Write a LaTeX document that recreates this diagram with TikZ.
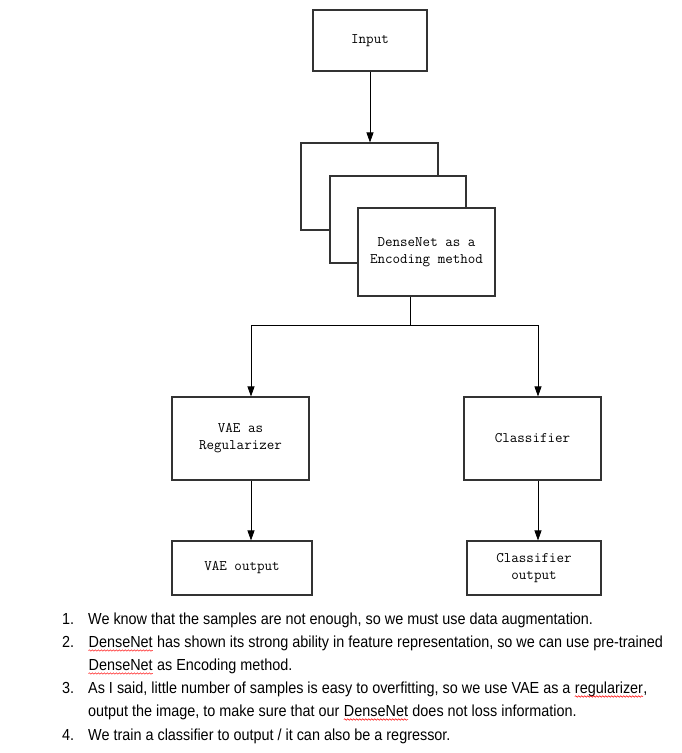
\documentclass[tikz,border=0pt]{standalone}
\usepackage{fontspec}
\setmainfont[FakeStretch=0.9]{Liberation Sans}
\usetikzlibrary{arrows.meta,decorations.pathmorphing}
\newcommand\wavy[1]{\tikz[baseline=(w.base)]{\node[inner sep=0pt,anchor=base](w){#1};\draw[red,line width=0.5pt,decorate,decoration={snake,amplitude=0.7pt,segment length=3pt}]([yshift=-3.5pt]w.base west)--([yshift=-3.5pt]w.base east);}}
\begin{document}
\begin{tikzpicture}[x=1pt,y=-1pt,
  blk/.style={draw=black!80,line width=1.1pt,fill=white,inner sep=0pt,font=\ttfamily\fontsize{14.6}{17}\selectfont,align=center},
  conn/.style={draw=black,line width=0.8pt},
  arr/.style={conn,-{Triangle[length=10pt,width=7pt]}},
  itm/.style={anchor=base west,inner sep=0pt,font=\fontsize{16}{18}\selectfont}]
\useasboundingbox (0,0) rectangle (681,753);
% boxes
\node[blk,minimum width=114pt,minimum height=61pt] (input) at (370,40.5) {Input};
\node[blk,minimum width=137pt,minimum height=87pt] (back) at (369.5,186.5) {};
\node[blk,minimum width=136pt,minimum height=87pt] (mid) at (398,219.5) {};
\node[blk,minimum width=137pt,minimum height=88pt] (enc) at (426.5,252) {DenseNet as a\\Encoding method};
\node[blk,minimum width=137pt,minimum height=83pt] (vae) at (240.5,438.5) {VAE as\\Regularizer};
\node[blk,minimum width=137pt,minimum height=83pt] (cls) at (532.5,438.5) {Classifier};
\node[blk,minimum width=140pt,minimum height=54pt] (vaeo) at (242,568) {VAE output};
\node[blk,minimum width=134pt,minimum height=54pt] (clso) at (534,568) {Classifier\\output};
% connectors
\coordinate (split) at (410,325);
\draw[arr] (input.south) -- (back.north -| input.south);
\draw[conn] (enc.south -| split) -- (split);
\draw[arr] (split) -- (251,325) -- (vae.north -| 251,0);
\draw[arr] (split) -- (538,325) -- (cls.north -| 538,0);
\draw[arr] (vae.south -| 251,0) -- (vaeo.north -| 251,0);
\draw[arr] (cls.south -| 538,0) -- (clso.north -| 538,0);
% list
\node[itm] (n1) at (62,624) {1.};
\node[itm] (t1) at (88,624) {We know that the samples are not enough, so we must use data augmentation.};
\node[itm] (n2) at (62,647) {2.};
\node[itm] (t2) at (88,647) {\wavy{DenseNet} has shown its strong ability in feature representation, so we can use pre-trained};
\node[itm] (t2b) at (88,670) {\wavy{DenseNet} as Encoding method.};
\node[itm] (n3) at (62,693) {3.};
\node[itm] (t3) at (88,693) {As I said, little number of samples is easy to overfitting, so we use VAE as a \wavy{regularizer},};
\node[itm] (t3b) at (88,716) {output the image, to make sure that our \wavy{DenseNet} does not loss information.};
\node[itm] (n4) at (62,740) {4.};
\node[itm] (t4) at (88,740) {We train a classifier to output / it can also be a regressor.};
\end{tikzpicture}
\end{document}
